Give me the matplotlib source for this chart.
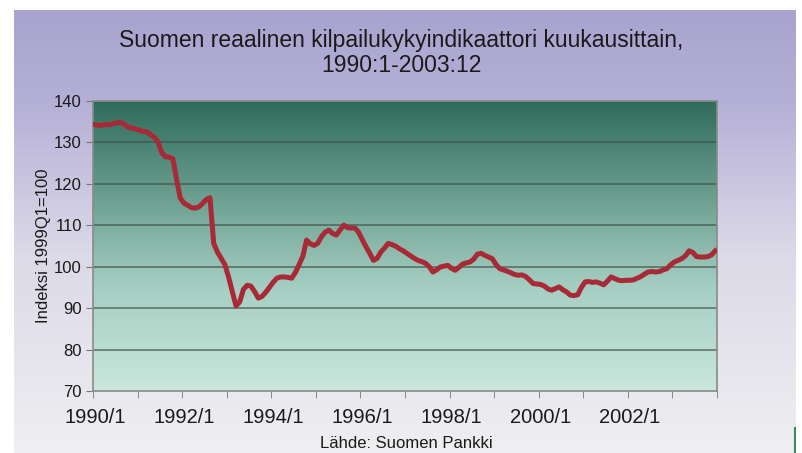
import numpy as np
import matplotlib
matplotlib.use("Agg")
import matplotlib.pyplot as plt
from matplotlib.colors import LinearSegmentedColormap

plt.rcParams['font.family'] = ['Liberation Sans', 'DejaVu Sans']

# kuukausittaiset arvot 1990:1 - 2003:12 (luettu kuvasta)
v1990 = [134.2, 134.0, 134.1, 134.3, 134.2, 134.5, 134.7, 134.8, 134.2, 133.6, 133.4, 133.2]
v1991 = [132.9, 132.6, 132.5, 131.8, 131.2, 130.0, 127.5, 126.5, 126.4, 126.0, 121.0, 116.5]
v1992 = [115.3, 114.8, 114.2, 114.1, 114.4, 115.2, 116.2, 116.6, 105.6, 103.5, 102.0, 100.5]
v1993 = [97.5, 94.0, 90.5, 91.5, 94.5, 95.5, 95.3, 94.0, 92.4, 92.8, 93.8, 95.0]
v1994 = [96.2, 97.2, 97.5, 97.5, 97.4, 97.2, 98.6, 100.5, 102.5, 106.4, 105.5, 105.1]
v1995 = [105.6, 107.2, 108.3, 108.8, 108.0, 107.6, 108.8, 110.0, 109.4, 109.3, 109.3, 108.3]
v1996 = [106.5, 104.8, 103.2, 101.5, 102.0, 103.5, 104.5, 105.6, 105.3, 104.9, 104.3, 103.8]
v1997 = [103.2, 102.6, 102.0, 101.5, 101.2, 100.8, 100.0, 98.7, 99.2, 99.9, 100.1, 100.3]
v1998 = [99.6, 99.1, 99.8, 100.6, 100.9, 101.1, 101.8, 103.0, 103.2, 102.7, 102.3, 101.9]
v1999 = [100.5, 99.5, 99.2, 98.9, 98.5, 98.1, 97.9, 98.0, 97.6, 96.8, 95.9, 95.8]
v2000 = [95.7, 95.3, 94.6, 94.3, 94.7, 95.1, 94.4, 93.9, 93.1, 93.0, 93.2, 95.0]
v2001 = [96.3, 96.4, 96.2, 96.3, 96.0, 95.6, 96.5, 97.5, 97.1, 96.7, 96.6, 96.7]
v2002 = [96.7, 96.8, 97.2, 97.6, 98.2, 98.7, 98.8, 98.7, 98.8, 99.2, 99.5, 100.4]
v2003 = [101.1, 101.5, 101.9, 102.6, 103.8, 103.4, 102.4, 102.3, 102.3, 102.4, 102.8, 103.8]

arvot = (v1990 + v1991 + v1992 + v1993 + v1994 + v1995 + v1996 + v1997
         + v1998 + v1999 + v2000 + v2001 + v2002 + v2003)
vuodet = list(range(1990, 2004))
xlabels = [str(y) + "/1" for y in vuodet[::2]]

fig = plt.figure(figsize=(8.03, 4.53), dpi=100)
fig.patch.set_facecolor('white')

# taustapaneeli (liukuvari)
bg = fig.add_axes([14/803, 0, (796-14)/803, 1-10/453])
bg_cmap = LinearSegmentedColormap.from_list('bg', [(0, '#efeff1'), (0.45, '#dcd9e8'), (0.8, '#b4afd6'), (1, '#a9a4cf')])
bg.imshow(np.linspace(0, 1, 256).reshape(-1, 1), cmap=bg_cmap, aspect='auto',
          origin='lower', extent=[0, 1, 0, 1])
bg.set_axis_off()

ax = fig.add_axes([93/803, 1-391/453, (717-93)/803, (391-100.7)/453])
pa_cmap = LinearSegmentedColormap.from_list('pa', [(0, '#cae7dd'), (0.35, '#a6cfc3'), (0.65, '#6fa293'), (1, '#2f6b5c')])
ax.imshow(np.linspace(0, 1, 256).reshape(-1, 1), cmap=pa_cmap, aspect='auto',
          origin='lower', extent=[0, 1, 0, 1], transform=ax.transAxes, zorder=0)

x = np.arange(len(arvot)) + 0.5
ax.plot(x, arvot, color='#a82a36', lw=3.6, solid_joinstyle='round', zorder=3)

ax.set_xlim(0, len(arvot))
ax.set_ylim(70, 140)
ax.set_yticks(range(70, 141, 10))
for yv in range(80, 140, 10):
    ax.axhline(yv, color='#3c4a44', lw=1.1, alpha=0.75, zorder=1)

ax.set_xticks(np.arange(0, len(arvot) + 1, 12), minor=True)
ax.set_xticks(np.arange(0, len(arvot), 24) + 0.5)
ax.set_xticklabels(xlabels)
ax.tick_params(axis='x', which='major', length=0, pad=12, labelsize=14.5, labelcolor='#1a1a1a')
ax.tick_params(axis='x', which='minor', length=5, color='#777777', direction='out')
ax.tick_params(axis='y', length=5, color='#777777', labelsize=12, pad=3, labelcolor='#1a1a1a')
for s in ax.spines.values():
    s.set_color('#8a8a8a')
    s.set_linewidth(1.2)

ax.set_ylabel("Indeksi 1999Q1=100", fontsize=12, labelpad=2, color='#1a1a1a')

fig.text(0.5, 1-53/453, "Suomen reaalinen kilpailukykyindikaattori kuukausittain,\n1990:1-2003:12",
         ha='center', va='center', fontsize=16.5, linespacing=1.15, color='#1a1a1a')
fig.text(406/803, 1-443/453, "Lähde: Suomen Pankki", ha='center', va='center', fontsize=12, color='#1a1a1a')

# vihrea pystyviiva oikeassa alakulmassa
fig.add_artist(plt.Line2D([795/803, 795/803], [0, 1-428/453], color='#3f8a5a', lw=1.5))

fig.savefig("out.png", dpi=100)
